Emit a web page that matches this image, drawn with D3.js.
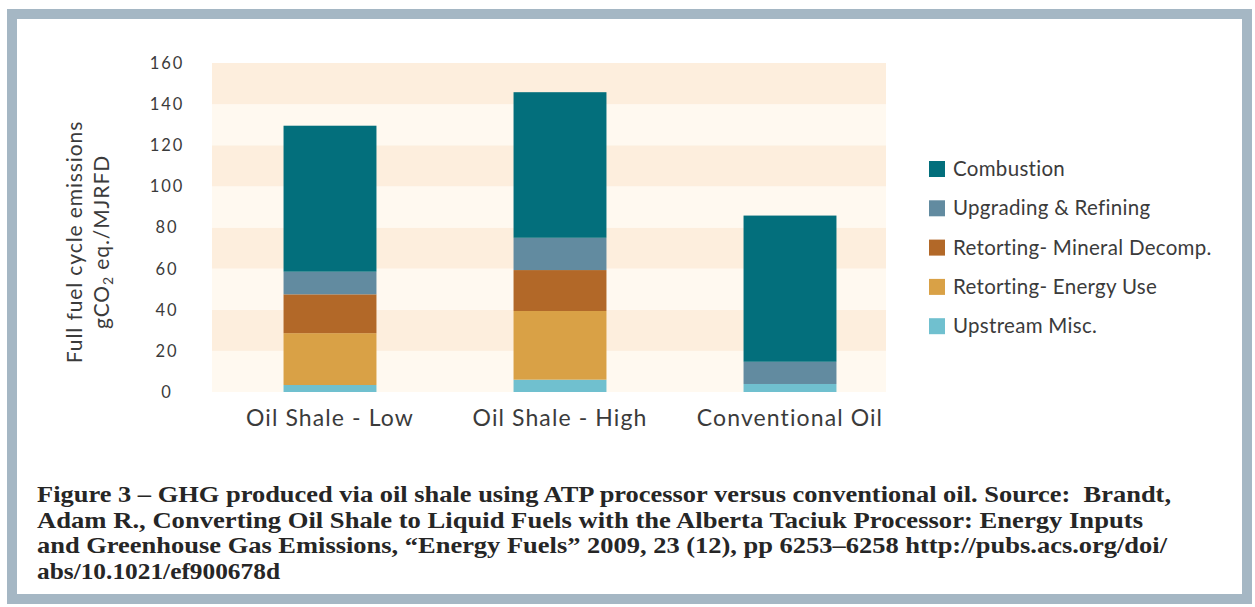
<!DOCTYPE html>
<html>
<head>
<meta charset="utf-8">
<script src="https://cdn.jsdelivr.net/npm/d3@7"></script>
<style>
  html, body { margin: 0; padding: 0; background: #ffffff; }
  svg { display: block; }
</style>
</head>
<body>
<svg id="chart" width="1255" height="607"></svg>
<script>
// Full fuel cycle GHG emissions, gCO2 eq./MJRFD
const categories = ["Oil Shale - Low", "Oil Shale - High", "Conventional Oil"];
const seriesNames = ["Upstream Misc.", "Retorting- Energy Use", "Retorting- Mineral Decomp.", "Upgrading & Refining", "Combustion"];
const upstreamMisc   = [3.4, 6.0, 3.9];
const retortEnergy   = [25.2, 33.4, 0];
const retortMineral  = [18.9, 19.9, 0];
const upgradeRefine  = [11.0, 15.7, 10.8];
const combustion     = [71.0, 70.8, 71.1];
const yTicks = [0, 20, 40, 60, 80, 100, 120, 140, 160];
const legendOrder = ["Combustion", "Upgrading & Refining", "Retorting- Mineral Decomp.", "Retorting- Energy Use", "Upstream Misc."];
const captionLines = [
  "Figure 3 \u2013 GHG produced via oil shale using ATP processor versus conventional oil. Source:\u00a0 Brandt,",
  "Adam R., Converting Oil Shale to Liquid Fuels with the Alberta Taciuk Processor: Energy Inputs",
  "and Greenhouse Gas Emissions, \u201cEnergy Fuels\u201d 2009, 23 (12), pp 6253\u20136258 http://pubs.acs.org/doi/",
  "abs/10.1021/ef900678d"
];
// set width of each caption line
const captionWidths = [1134, 1106, 1130, 243];

const colors = {
  "Combustion": "#036f7c",
  "Upgrading & Refining": "#628ba0",
  "Retorting- Mineral Decomp.": "#b26828",
  "Retorting- Energy Use": "#d9a146",
  "Upstream Misc.": "#70c0cf"
};

const rows = categories.map((c, i) => ({
  category: c,
  "Upstream Misc.": upstreamMisc[i],
  "Retorting- Energy Use": retortEnergy[i],
  "Retorting- Mineral Decomp.": retortMineral[i],
  "Upgrading & Refining": upgradeRefine[i],
  "Combustion": combustion[i]
}));

const svg = d3.select("#chart");
const sans = "Lato, 'Open Sans', sans-serif";
const textColor = "#3b3b3b";

// Outer frame
svg.append("rect")
  .attr("x", 12).attr("y", 14)
  .attr("width", 1235).attr("height", 585)
  .attr("fill", "#ffffff")
  .attr("stroke", "#a5b7c4")
  .attr("stroke-width", 10);

const plotLeft = 212, plotRight = 886;

const y = d3.scaleLinear().domain([0, 160]).range([392, 63]);
const x = d3.scaleBand().domain(categories)
  .range([215, 905])
  .paddingInner(0.596)
  .paddingOuter(0.298);

// Alternating horizontal background bands
const bands = d3.pairs(yTicks);
svg.append("g").selectAll("rect")
  .data(bands)
  .join("rect")
  .attr("x", plotLeft)
  .attr("width", plotRight - plotLeft)
  .attr("y", d => y(d[1]))
  .attr("height", d => y(d[0]) - y(d[1]))
  .attr("fill", (d, i) => (bands.length - 1 - i) % 2 === 0 ? "#fdeedd" : "#fff9f0");

// Y tick labels
svg.append("g").selectAll("text")
  .data(yTicks)
  .join("text")
  .attr("x", 167)
  .attr("y", d => y(d))
  .attr("dy", "0.36em")
  .attr("text-anchor", "middle")
  .attr("font-family", sans)
  .attr("font-size", 16.5)
  .attr("letter-spacing", 2)
  .attr("fill", textColor)
  .text(d => d);

// Y axis title
const yTitle = svg.append("text")
  .attr("transform", "translate(0,242) rotate(-90)")
  .attr("text-anchor", "middle")
  .attr("font-family", sans)
  .attr("font-size", 21)
  .attr("letter-spacing", 0.9)
  .attr("fill", textColor);
yTitle.append("tspan").attr("x", 0).attr("y", 82).text("Full fuel cycle emissions");
const t2 = yTitle.append("tspan").attr("x", 0).attr("y", 109);
t2.append("tspan").text("gCO");
t2.append("tspan").attr("font-size", 14).attr("dy", 4).text("2");
t2.append("tspan").attr("dy", -4).text(" eq./MJRFD");

// Stacked bars
const stack = d3.stack().keys(seriesNames);
const stacked = stack(rows);
svg.append("g").selectAll("g")
  .data(stacked)
  .join("g")
  .attr("fill", d => colors[d.key])
  .selectAll("rect")
  .data(d => d.filter(s => s[1] - s[0] > 0))
  .join("rect")
  .attr("x", d => x(d.data.category))
  .attr("width", x.bandwidth())
  .attr("y", d => y(d[1]))
  .attr("height", d => y(d[0]) - y(d[1]));

// Category labels
svg.append("g").selectAll("text")
  .data(categories)
  .join("text")
  .attr("x", d => x(d) + x.bandwidth() / 2)
  .attr("y", 426)
  .attr("text-anchor", "middle")
  .attr("font-family", sans)
  .attr("font-size", 23)
  .attr("letter-spacing", 1.1)
  .attr("fill", textColor)
  .text(d => d);

// Legend
const legend = svg.append("g").attr("transform", "translate(929,160)");
const li = legend.selectAll("g")
  .data(legendOrder)
  .join("g")
  .attr("transform", (d, i) => `translate(0,${i * 39.3})`);
li.append("rect")
  .attr("x", 0).attr("y", 1)
  .attr("width", 16).attr("height", 16)
  .attr("fill", d => colors[d]);
li.append("text")
  .attr("x", 24).attr("y", 16)
  .attr("font-family", sans)
  .attr("font-size", 20.5)
  .attr("letter-spacing", 0.3)
  .attr("fill", textColor)
  .text(d => d);

// Caption
svg.append("g").selectAll("text")
  .data(captionLines)
  .join("text")
  .attr("x", 37)
  .attr("y", (d, i) => 502 + i * 25.7)
  .attr("font-family", "'Liberation Serif', 'DejaVu Serif', serif")
  .attr("font-weight", "bold")
  .attr("font-size", 23)
  .attr("textLength", (d, i) => captionWidths[i])
  .attr("lengthAdjust", "spacingAndGlyphs")
  .attr("fill", "#262626")
  .text(d => d);
</script>
</body>
</html>
